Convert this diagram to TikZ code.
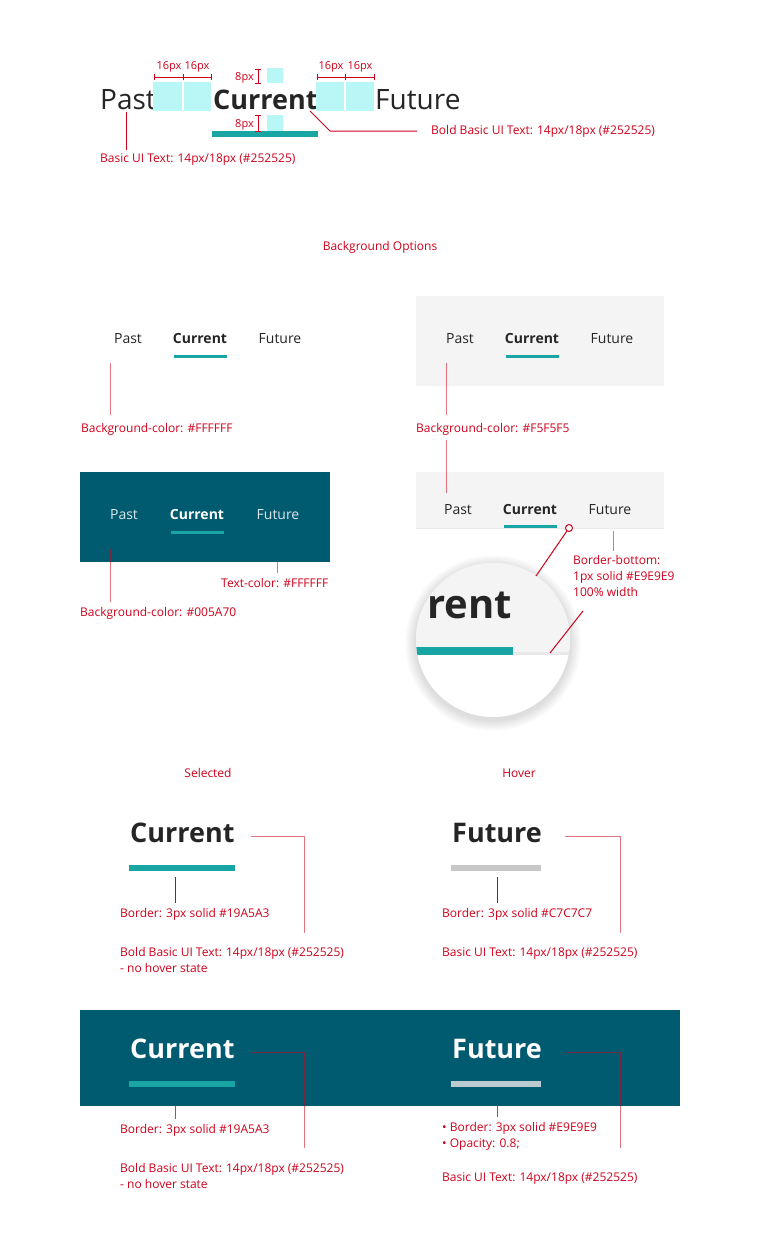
\documentclass[tikz,border=0pt]{standalone}
\usepackage{fontspec}
\setmainfont{Open Sans}
\usetikzlibrary{positioning, calc}

\definecolor{ink}{HTML}{252525}
\definecolor{tabteal}{HTML}{19A5A3}
\definecolor{navy}{HTML}{005A70}
\definecolor{panel}{HTML}{F4F4F4}
\definecolor{rulegrey}{HTML}{E9E9E9}
\definecolor{hovergrey}{HTML}{C7C7C7}
\definecolor{spacer}{HTML}{B9F6F6}
\definecolor{annot}{HTML}{D0021B}

\tikzset{
  note/.style={text=annot, font=\fontsize{12}{16}\selectfont, inner sep=0pt, anchor=base west},
  small note/.style={note, font=\fontsize{11}{14}\selectfont, anchor=base},
  lead/.style={draw=annot, draw opacity=0.55, line width=1pt},
  dimline/.style={draw=annot, line width=1pt},
  tabtext/.style={text=ink, inner sep=0pt, anchor=base, font=\fontsize{14}{18}\selectfont},
  tabbold/.style={tabtext, font=\fontsize{14}{18}\bfseries\selectfont},
  bigtext/.style={text=ink, inner sep=0pt, anchor=base west, font=\fontsize{28}{32}\selectfont},
  bigbold/.style={bigtext, font=\fontsize{27}{32}\bfseries\selectfont},
  headbold/.style={bigtext, font=\fontsize{27}{32}\bfseries\selectfont}
}

\begin{document}
\begin{tikzpicture}[x=1pt, y=-1pt]
  \useasboundingbox[fill=white] (0,0) rectangle (760,1256);

  % Spacing - top specimen
  \node[bigtext] (topPast) at (100,109) {Past};
  \node[bigbold] (topCur) at (213,109) {Current};
  \node[bigtext] (topFut) at (375,109) {Future};
  \fill[spacer] (153,82) rectangle (182,111); \fill[spacer] (184,82) rectangle (211,111);
  \fill[spacer] (316,82) rectangle (344,111); \fill[spacer] (346,82) rectangle (374,111);
  \fill[spacer] (267,68) rectangle (283,83); \fill[spacer] (267,115) rectangle (283,131);
  \fill[tabteal] (212,131) rectangle (318,137);

  \draw[dimline] (154,77) -- (211,77);
  \foreach \x in {154,183,211} \draw[dimline] (\x,74) -- (\x,80);
  \draw[dimline] (317,77) -- (374,77);
  \foreach \x in {317,345,374} \draw[dimline] (\x,74) -- (\x,80);
  \node[small note] (gapA) at (169,69) {16px};
  \node[small note] (gapB) at (197,69) {16px};
  \node[small note] (gapC) at (331,69) {16px};
  \node[small note] (gapD) at (360,69) {16px};

  \draw[dimline] (258,69) -- (258,83); \draw[dimline] (255,69) -- (261,69); \draw[dimline] (255,83) -- (261,83);
  \draw[dimline] (258,115) -- (258,131); \draw[dimline] (255,115) -- (261,115); \draw[dimline] (255,131) -- (261,131);
  \node[small note, anchor=base east] (padTop) at (254,80) {8px};
  \node[small note, anchor=base east] (padBot) at (254,127) {8px};

  \node[note] (topPastLbl) at (100,162) {Basic UI Text: 14px/18px (\#252525)};
  \coordinate (topPastTip) at (126,112);
  \draw[dimline, shorten >=3pt] (topPastTip) -- (topPastTip |- topPastLbl.north);
  \node[note] (topCurLbl) at (431,134) {Bold Basic UI Text: 14px/18px (\#252525)};
  \coordinate (topCurTip) at (310,111);
  \draw[dimline] (topCurTip) -- (330,131) -- ++(87,0);

  \node[note, anchor=base] (bgHead) at (380,250) {Background Options};

  % White background
  \node[tabtext] (wPast) at (128,343) {Past};
  \node[tabbold] (wCur) at (200,343) {Current};
  \node[tabtext] (wFut) at (280,343) {Future};
  \fill[tabteal] (174,355) rectangle (227,358);
  \node[note] (wLbl) at (81,432) {Background-color: \#FFFFFF};
  \coordinate (wTip) at (110,363);
  \draw[lead, shorten >=8pt] (wTip) -- (wTip |- wLbl.north);

  % Grey background
  \fill[panel] (416,296) rectangle (664,386);
  \node[tabtext] (gPast) at (460,343) {Past};
  \node[tabbold] (gCur) at (532,343) {Current};
  \node[tabtext] (gFut) at (612,343) {Future};
  \fill[tabteal] (506,355) rectangle (559,358);
  \node[note, anchor=base west] (gLbl) at (416,432) {Background-color: \#F5F5F5};
  \coordinate (gTip) at (446,363);
  \draw[lead, shorten >=8pt] (gTip) -- (gTip |- gLbl.north);

  % Grey background with bottom border
  \fill[panel] (416,472) rectangle (664,528);
  \draw[rulegrey, line width=1pt] (416,528.5) -- (664,528.5);
  \node[tabtext] (bPast) at (458,514) {Past};
  \node[tabbold] (bCur) at (530,514) {Current};
  \node[tabtext] (bFut) at (610,514) {Future};
  \fill[tabteal] (504,525) rectangle (557,528);
  \coordinate (bTip) at (446,493);
  \draw[lead, shorten <=5pt] (gLbl.south -| bTip) -- (bTip);
  \coordinate (bFutTip) at (613,531);
  \node[note] (borderLblA) at (573,564) {Border-bottom:};
  \node[note] (borderLblB) at (573,580) {1px solid \#E9E9E9};
  \node[note] (borderLblC) at (573,596) {100\% width};
  \draw[lead, shorten >=4pt] (bFutTip) -- (bFutTip |- borderLblA.north);

  % Magnifier
  \coordinate (mag) at (493,640);
  \foreach \r in {78,...,88}
    \fill[black, opacity=0.012] ($(mag)+(0,3)$) circle [radius=\r pt];
  \fill[white] (mag) circle [radius=77pt];
  \begin{scope}
    \clip (mag) circle [radius=77pt];
    \fill[panel] (410,560) rectangle (575,655);
    \fill[rulegrey] (410,652) rectangle (575,655);
    \fill[tabteal] (410,647) rectangle (513,655);
    \node[text=ink, inner sep=0pt, anchor=base west, font=\fontsize{40}{44}\bfseries\selectfont] (rent) at (427,618) {rent};
  \end{scope}
  \node[circle, draw=annot, fill=white, line width=1pt, inner sep=0pt, minimum size=7pt] (ring) at (569,528) {};
  \coordinate (ringEnd) at (536,576);
  \draw[dimline] (ring) -- (ringEnd);
  \coordinate (magLeadA) at (583,611);
  \coordinate (magLeadB) at (550,653);
  \draw[dimline] (magLeadA) -- (magLeadB);

  % Dark background
  \fill[navy] (80,472) rectangle (330,562);
  \node[tabtext, text=white, text opacity=0.85] (dPast) at (124,519) {Past};
  \node[tabbold, text=white] (dCur) at (197,519) {Current};
  \node[tabtext, text=white, text opacity=0.85] (dFut) at (278,519) {Future};
  \fill[tabteal] (171,531) rectangle (224,534);
  \node[note] (dBgLbl) at (80,616) {Background-color: \#005A70};
  \coordinate (dBgTip) at (110,549);
  \draw[lead, shorten >=5pt] (dBgTip) -- (dBgTip |- dBgLbl.north);
  \node[note] (dTxtLbl) at (221,587) {Text-color: \#FFFFFF};
  \coordinate (dTxtTip) at (277,526);
  \draw[lead, shorten >=5pt] (dTxtTip) -- (dTxtTip |- dTxtLbl.north);

  % Selected / Hover
  \node[note, anchor=base] (selHead) at (208,777) {Selected};
  \node[note, anchor=base] (hovHead) at (519,777) {Hover};

  \node[headbold] (selCur) at (130,842) {Current};
  \fill[tabteal] (129,865) rectangle (235,871);
  \node[note] (selBorderLbl) at (120,917) {Border: 3px solid \#19A5A3};
  \coordinate (selBarTip) at (175,877);
  \draw[dimline, shorten >=5pt] (selBarTip) -- (selBarTip |- selBorderLbl.north);
  \node[note] (selTextLbl) at (120,956) {Bold Basic UI Text: 14px/18px (\#252525)};
  \node[note] (selTextLblB) at (120,972) {- no hover state};
  \coordinate (selTxtTip) at (251,836);
  \draw[lead] (selTxtTip) -- ++(53,0) -- ++(0,97);

  \node[headbold] (hovFut) at (452,842) {Future};
  \fill[hovergrey] (451,865) rectangle (541,871);
  \node[note] (hovBorderLbl) at (442,917) {Border: 3px solid \#C7C7C7};
  \coordinate (hovBarTip) at (497,877);
  \draw[dimline, shorten >=5pt] (hovBarTip) -- (hovBarTip |- hovBorderLbl.north);
  \node[note] (hovTextLbl) at (442,956) {Basic UI Text: 14px/18px (\#252525)};
  \coordinate (hovTxtTip) at (565,836);
  \draw[lead] (hovTxtTip) -- ++(55,0) -- ++(0,97);

  % Dark band
  \fill[navy] (80,1010) rectangle (680,1106);
  \node[headbold, text=white] (dkCur) at (130,1058) {Current};
  \fill[tabteal] (129,1081) rectangle (235,1087);
  \node[note] (dkBorderLbl) at (120,1133) {Border: 3px solid \#19A5A3};
  \coordinate (dkBarTip) at (175,1093);
  \draw[lead, draw opacity=0.8, shorten >=5pt] (dkBarTip) -- (dkBarTip |- dkBorderLbl.north);
  \node[note] (dkTextLbl) at (120,1172) {Bold Basic UI Text: 14px/18px (\#252525)};
  \node[note] (dkTextLblB) at (120,1188) {- no hover state};
  \coordinate (dkTxtTip) at (251,1052);
  \draw[lead] (dkTxtTip) -- ++(53,0) -- ++(0,96);

  \node[headbold, text=white] (dkFut) at (452,1058) {Future};
  \fill[rulegrey, fill opacity=0.8] (451,1081) rectangle (541,1087);
  \node[note] (dkHovLblA) at (442,1131) {• Border: 3px solid \#E9E9E9};
  \node[note] (dkHovLblB) at (442,1147) {• Opacity: 0.8;};
  \coordinate (dkHovTip) at (497,1093);
  \draw[lead, draw opacity=0.8, shorten >=5pt] (dkHovTip) -- (dkHovTip |- dkHovLblA.north);
  \node[note] (dkHovTextLbl) at (442,1181) {Basic UI Text: 14px/18px (\#252525)};
  \coordinate (dkHovTxtTip) at (565,1052);
  \draw[lead] (dkHovTxtTip) -- ++(55,0) -- ++(0,96);
\end{tikzpicture}
\end{document}
